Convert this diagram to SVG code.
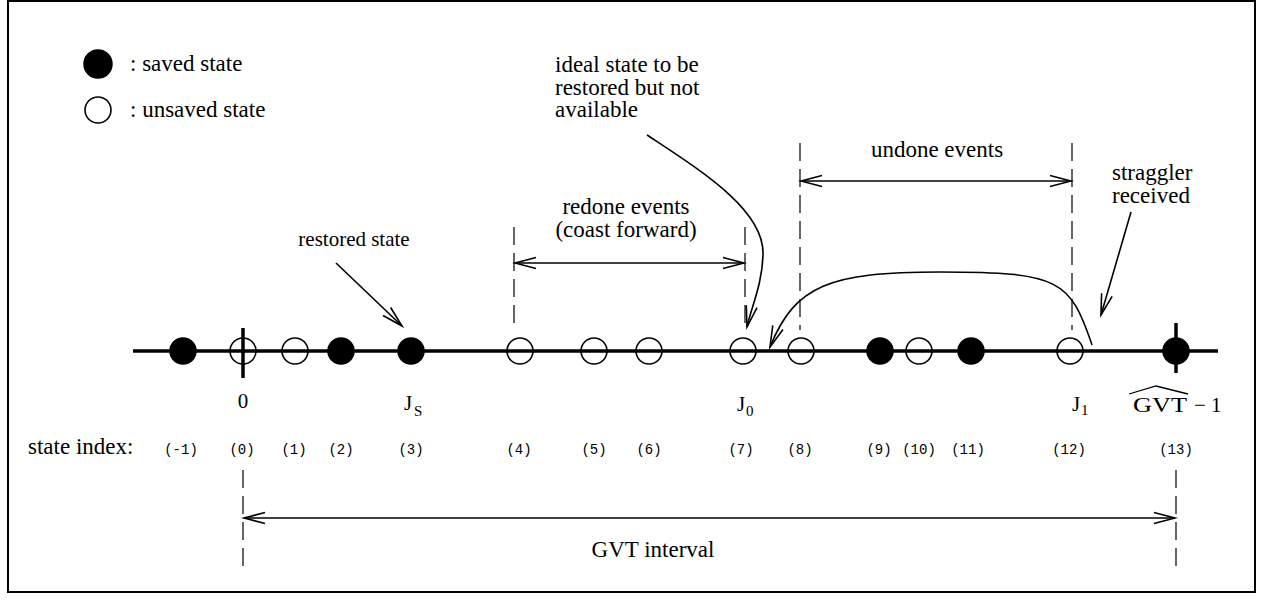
<svg xmlns="http://www.w3.org/2000/svg" width="1264" height="607" viewBox="0 0 1264 607">
<style>
text{font-family:"Liberation Serif","Times New Roman",serif;fill:#000}
.t{font-size:23px}
.ts{font-size:21px}
.lab{font-size:21px}
.sub{font-size:15px}
.idx{font-family:"Liberation Mono","Courier New",monospace;font-size:14px}
.filled{fill:#000;stroke:#000;stroke-width:1.5}
.open{fill:none;stroke:#000;stroke-width:1.6}
.dash{stroke:#000;stroke-width:1.2;stroke-dasharray:18 8;fill:none}
.arr{stroke:#000;stroke-width:1.6;fill:none}
</style>
<defs>
<marker id="ah" markerUnits="userSpaceOnUse" markerWidth="26" markerHeight="16" viewBox="-23 -8 26 16" refX="0" refY="0" orient="auto-start-reverse">
<path d="M-21,-5.5 L0,0 L-21,5.5" fill="none" stroke="#000" stroke-width="1.6"/>
</marker>
</defs>
<rect x="8" y="1" width="1247" height="591" fill="#fff" stroke="#000" stroke-width="2"/>

<g id="legend">
<circle cx="98" cy="64" r="14" class="filled"/>
<text class="t" x="130" y="71">: saved state</text>
<circle cx="98" cy="110" r="13" class="open"/>
<text class="t" x="130" y="117">: unsaved state</text>
</g>

<g id="axis">
<line x1="133" y1="351" x2="1218" y2="351" stroke="#000" stroke-width="3.5"/>
<line x1="243" y1="328" x2="243" y2="378" stroke="#000" stroke-width="3.5"/>
<line x1="1176" y1="323" x2="1176" y2="373" stroke="#000" stroke-width="3.5"/>
</g>

<g id="states">
<circle id="s-1" cx="183" cy="351" r="13" class="filled"/>
<circle id="s0" cx="243" cy="351" r="13" class="open"/>
<circle id="s1" cx="295" cy="351" r="13" class="open"/>
<circle id="s2" cx="341" cy="351" r="13" class="filled"/>
<circle id="s3" cx="411" cy="351" r="13" class="filled"/>
<circle id="s4" cx="520" cy="351" r="13" class="open"/>
<circle id="s5" cx="594" cy="351" r="13" class="open"/>
<circle id="s6" cx="649" cy="351" r="13" class="open"/>
<circle id="s7" cx="743" cy="351" r="13" class="open"/>
<circle id="s8" cx="801" cy="351" r="13" class="open"/>
<circle id="s9" cx="880" cy="351" r="13" class="filled"/>
<circle id="s10" cx="919" cy="351" r="13" class="open"/>
<circle id="s11" cx="971" cy="351" r="13" class="filled"/>
<circle id="s12" cx="1070" cy="351" r="13" class="open"/>
<circle id="s13" cx="1176" cy="351" r="13" class="filled"/>
</g>

<g id="axis-labels">
<text class="lab" x="243" y="408" text-anchor="middle">0</text>
<text class="lab" x="404" y="410">J</text><text class="sub" x="414" y="416">S</text>
<text class="lab" x="737" y="411">J</text><text class="sub" x="746" y="416">0</text>
<text class="lab" x="1072" y="411">J</text><text class="sub" x="1081" y="415">1</text>
<text class="lab" x="1133" y="412" textLength="54" lengthAdjust="spacingAndGlyphs">GVT</text>
<text class="lab" x="1194" y="412">− 1</text>
<path d="M1129,394 L1156,386 L1188,394" fill="none" stroke="#000" stroke-width="1.3"/>
</g>

<g id="state-index">
<text class="t" x="28" y="454">state index:</text>
<g text-anchor="middle">
<text class="idx" x="181" y="454">(-1)</text>
<text class="idx" x="242" y="454">(0)</text>
<text class="idx" x="294" y="454">(1)</text>
<text class="idx" x="341" y="454">(2)</text>
<text class="idx" x="411" y="454">(3)</text>
<text class="idx" x="519" y="454">(4)</text>
<text class="idx" x="594" y="454">(5)</text>
<text class="idx" x="649" y="454">(6)</text>
<text class="idx" x="741" y="454">(7)</text>
<text class="idx" x="800" y="454">(8)</text>
<text class="idx" x="879" y="454">(9)</text>
<text class="idx" x="919" y="454">(10)</text>
<text class="idx" x="968" y="454">(11)</text>
<text class="idx" x="1069" y="454">(12)</text>
<text class="idx" x="1176" y="454">(13)</text>
</g>
</g>

<g id="labels">
<text class="t" x="555" y="72">ideal state to be<tspan x="555" dy="22.5">restored but not</tspan><tspan x="555" dy="22.5">available</tspan></text>
<text class="t" x="937" y="157" text-anchor="middle">undone events</text>
<text class="t" x="1112" y="180">straggler<tspan x="1112" dy="22.5">received</tspan></text>
<text class="t" x="626" y="214" text-anchor="middle">redone events<tspan x="626" dy="23">(coast forward)</tspan></text>
<text class="ts" x="354" y="246" text-anchor="middle">restored state</text>
<text class="t" x="653" y="557" text-anchor="middle">GVT interval</text>
</g>

<g id="connectors">
<line x1="514" y1="227" x2="514" y2="330" class="dash"/>
<line x1="745" y1="227" x2="745" y2="330" class="dash"/>
<line x1="800" y1="143" x2="800" y2="330" class="dash"/>
<line x1="1072" y1="143" x2="1072" y2="330" class="dash"/>
<line x1="243" y1="470" x2="243" y2="566" class="dash"/>
<line x1="1176" y1="470" x2="1176" y2="566" class="dash"/>
<line x1="515" y1="263" x2="744" y2="263" class="arr" marker-start="url(#ah)" marker-end="url(#ah)"/>
<line x1="801" y1="181" x2="1071" y2="181" class="arr" marker-start="url(#ah)" marker-end="url(#ah)"/>
<line x1="244" y1="518" x2="1175" y2="518" class="arr" marker-start="url(#ah)" marker-end="url(#ah)"/>
<line x1="336" y1="263" x2="402" y2="326" class="arr" marker-end="url(#ah)"/>
<line x1="1131" y1="212" x2="1101" y2="315" class="arr" marker-end="url(#ah)"/>
<path d="M647,135 C700,170 765,210 763,255 C762,285 752,305 747,327" class="arr" marker-end="url(#ah)"/>
<path d="M1092,345 C1070,280 1060,272 940,272 C830,272 795,285 770,347" class="arr" marker-end="url(#ah)"/>
</g>
</svg>
